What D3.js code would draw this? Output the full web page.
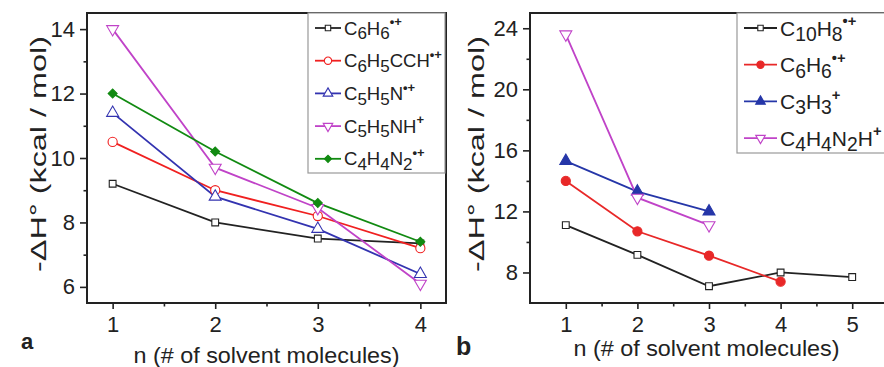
<!DOCTYPE html>
<html>
<head>
<meta charset="utf-8">
<script src="https://cdn.jsdelivr.net/npm/d3@7"></script>
<style>
  body { margin: 0; background: #fff; }
  text { font-family: "Liberation Sans", Arial, sans-serif; fill: #222; }
</style>
</head>
<body>
<svg id="chart" width="884" height="367"></svg>
<script>
// ---- panel a data ----
const nA = [1, 2, 3, 4];
const labelsA = ["C_{6}H_{6}^{•+}", "C_{6}H_{5}CCH^{•+}", "C_{5}H_{5}N^{•+}", "C_{5}H_{5}NH^{+}", "C_{4}H_{4}N_{2}^{•+}"];
const benzeneA = [9.2, 8.0, 7.5, 7.35];
const phenylacetyleneA = [10.5, 9.0, 8.2, 7.2];
const pyridineA = [11.4, 8.8, 7.8, 6.4];
const pyridiniumA = [14.0, 9.7, 8.45, 6.1];
const pyrimidineA = [12.0, 10.2, 8.6, 7.4];
const yTicksA = [6, 8, 10, 12, 14];
const yMinorA = [7, 9, 11, 13];
const xTicksA = [1, 2, 3, 4];
const xMinorA = [1.5, 2.5, 3.5];

// ---- panel b data ----
const nB = [1, 2, 3, 4, 5];
const labelsB = ["C_{10}H_{8}^{•+}", "C_{6}H_{6}^{•+}", "C_{3}H_{3}^{+}", "C_{4}H_{4}N_{2}H^{+}"];
const naphthaleneB = [11.1, 9.15, 7.1, 8.0, 7.7];
const benzeneB = [14.0, 10.7, 9.1, 7.4];
const propargylB = [15.3, 13.3, 12.0];
const pyrimidiniumB = [23.6, 12.9, 11.1];
const yTicksB = [8, 12, 16, 20, 24];
const yMinorB = [10, 14, 18, 22];
const xTicksB = [1, 2, 3, 4, 5];
const xMinorB = [1.5, 2.5, 3.5, 4.5];

const yTitle = "-ΔH° (kcal / mol)";
const xTitle = "n (# of solvent molecules)";

const svg = d3.select("#chart");

// marker shapes
const sq = d3.symbol().type(d3.symbolSquare);
const circ = d3.symbol().type(d3.symbolCircle);
const tri = d3.symbol().type(d3.symbolTriangle);

function marker(g, kind, color, scale) {
  const s = scale || 1;
  let p;
  if (kind === "square") p = g.append("path").attr("d", sq.size(46 * s * s)());
  else if (kind === "circle") p = g.append("path").attr("d", circ.size(66 * s * s)());
  else if (kind === "up") p = g.append("path").attr("d", tri.size(62 * s * s)());
  else if (kind === "down") p = g.append("path").attr("d", tri.size(62 * s * s)()).attr("transform", "rotate(180)");
  else p = g.append("path").attr("d", sq.size(40 * s * s)()).attr("transform", "rotate(45)");
  return p;
}

// writes "C_{6}H_{6}^{•+}" as tspans
function richText(t, label, size, subSize, supSize) {
  const parts = label.match(/_\{[^}]*\}|\^\{[^}]*\}|[^_^]+/g);
  let shift = 0;
  parts.forEach(p => {
    let txt = p, fs = size, s = 0, w = null;
    if (p[0] === "_") { txt = p.slice(2, -1); fs = subSize; s = size * 0.25; }
    else if (p[0] === "^") { txt = p.slice(2, -1); fs = supSize; s = -size * 0.45; w = "bold"; }
    const ts = t.append("tspan").attr("font-size", fs).attr("dy", s - shift).text(txt);
    if (w) ts.attr("font-weight", w);
    shift = s;
  });
}

function drawPanel(cfg) {
  const x = d3.scaleLinear().domain(cfg.xDomain).range([cfg.left, cfg.right]);
  const y = d3.scaleLinear().domain(cfg.yDomain).range([cfg.bottom, cfg.top]);
  const g = svg.append("g");

  // axes
  g.append("g").attr("transform", `translate(0,${cfg.bottom})`)
    .call(d3.axisBottom(x).tickValues(cfg.xTicks).tickSize(6).tickPadding(7).tickFormat(d3.format("d")));
  g.append("g").attr("transform", `translate(0,${cfg.bottom})`)
    .call(d3.axisBottom(x).tickValues(cfg.xMinor).tickSize(3.5).tickFormat(""));
  g.append("g").attr("transform", `translate(${cfg.left},0)`)
    .call(d3.axisLeft(y).tickValues(cfg.yTicks).tickSize(7).tickPadding(5).tickFormat(d3.format("d")));
  g.append("g").attr("transform", `translate(${cfg.left},0)`)
    .call(d3.axisLeft(y).tickValues(cfg.yMinor).tickSize(3.5).tickFormat(""));
  g.selectAll(".domain").remove();
  g.selectAll(".tick line").attr("stroke", "#222").attr("stroke-width", 1.6);
  g.selectAll(".tick text").attr("font-size", 22).attr("fill", "#222")
    .attr("font-family", "'Liberation Sans', Arial, sans-serif");

  // frame
  g.append("rect").attr("x", cfg.left).attr("y", cfg.top)
    .attr("width", cfg.right - cfg.left).attr("height", cfg.bottom - cfg.top)
    .attr("fill", "none").attr("stroke", "#222").attr("stroke-width", 2);

  // series
  const line = d3.line().x((d, i) => x(cfg.n[i])).y(d => y(d));
  cfg.series.forEach(s => {
    g.append("path").datum(s.values).attr("d", line)
      .attr("fill", "none").attr("stroke", s.color).attr("stroke-width", 1.8);
  });
  cfg.series.forEach(s => {
    s.values.forEach((v, i) => {
      const mg = g.append("g").attr("transform", `translate(${x(cfg.n[i])},${y(v)})`);
      marker(mg, s.shape, s.color)
        .attr("fill", s.filled ? s.color : "#fff")
        .attr("stroke", s.color).attr("stroke-width", 1.1);
    });
  });

  // legend
  const L = cfg.legend;
  g.append("rect").attr("x", L.x).attr("y", cfg.top).attr("width", L.w).attr("height", L.h)
    .attr("fill", "#fff").attr("stroke", "#999").attr("stroke-width", 1.2);
  cfg.series.forEach((s, i) => {
    const cy = L.y0 + i * L.dy;
    g.append("line").attr("x1", L.x + 7).attr("x2", L.x + 7 + L.len)
      .attr("y1", cy).attr("y2", cy).attr("stroke", s.color).attr("stroke-width", 1.8);
    const mg = g.append("g").attr("transform", `translate(${L.x + 7 + L.len / 2},${cy})`);
    marker(mg, s.shape, s.color, 0.8)
      .attr("fill", s.filled ? s.color : "#fff")
      .attr("stroke", s.color).attr("stroke-width", 1.1);
    const t = g.append("text").attr("x", L.x + L.len + 10).attr("y", cy + L.fs * 0.36);
    richText(t, s.label, L.fs, L.fs * 0.92, L.fs * 0.7);
  });

  // titles
  g.append("text").attr("transform", `translate(${cfg.yTitleX},${cfg.yTitleY}) rotate(-90)`)
    .attr("text-anchor", "middle").attr("font-size", 22)
    .attr("textLength", 236).attr("lengthAdjust", "spacingAndGlyphs").text(yTitle);
  g.append("text").attr("x", (cfg.left + cfg.right) / 2 + cfg.xTitleDx).attr("y", cfg.xTitleY)
    .attr("text-anchor", "middle").attr("font-size", 22)
    .attr("textLength", 266).attr("lengthAdjust", "spacingAndGlyphs").text(xTitle);
  g.append("text").attr("x", cfg.tag.x).attr("y", cfg.tag.y)
    .attr("font-size", cfg.tag.fs).attr("font-weight", "bold").text(cfg.tag.t);
}

drawPanel({
  left: 87, right: 446, top: 13, bottom: 303,
  xDomain: [0.75, 4.25], yDomain: [5.5, 14.5],
  xTicks: xTicksA, xMinor: xMinorA, yTicks: yTicksA, yMinor: yMinorA,
  n: nA,
  series: [
    { label: labelsA[0], values: benzeneA, color: "#222", shape: "square", filled: false },
    { label: labelsA[1], values: phenylacetyleneA, color: "#f02020", shape: "circle", filled: false },
    { label: labelsA[2], values: pyridineA, color: "#3333b0", shape: "up", filled: false },
    { label: labelsA[3], values: pyridiniumA, color: "#c043c8", shape: "down", filled: false },
    { label: labelsA[4], values: pyrimidineA, color: "#118a11", shape: "diamond", filled: true }
  ],
  legend: { x: 308, w: 137, h: 160, y0: 28, dy: 32.7, len: 26, fs: 18.5 },
  yTitleX: 46, yTitleY: 154, xTitleY: 363, xTitleDx: 0,
  tag: { t: "a", x: 21, y: 349, fs: 22 }
});

drawPanel({
  left: 530, right: 888, top: 13, bottom: 303,
  xDomain: [0.5, 5.5], yDomain: [6, 25],
  xTicks: xTicksB, xMinor: xMinorB, yTicks: yTicksB, yMinor: yMinorB,
  n: nB,
  series: [
    { label: labelsB[0], values: naphthaleneB, color: "#222", shape: "square", filled: false },
    { label: labelsB[1], values: benzeneB, color: "#e82828", shape: "circle", filled: true },
    { label: labelsB[2], values: propargylB, color: "#2536a8", shape: "up", filled: true },
    { label: labelsB[3], values: pyrimidiniumB, color: "#c043c8", shape: "down", filled: false }
  ],
  legend: { x: 737, w: 150, h: 140, y0: 28, dy: 36.7, len: 33, fs: 21 },
  yTitleX: 484, yTitleY: 154, xTitleY: 356, xTitleDx: -2.5,
  tag: { t: "b", x: 456, y: 355, fs: 25 }
});
</script>
</body>
</html>
